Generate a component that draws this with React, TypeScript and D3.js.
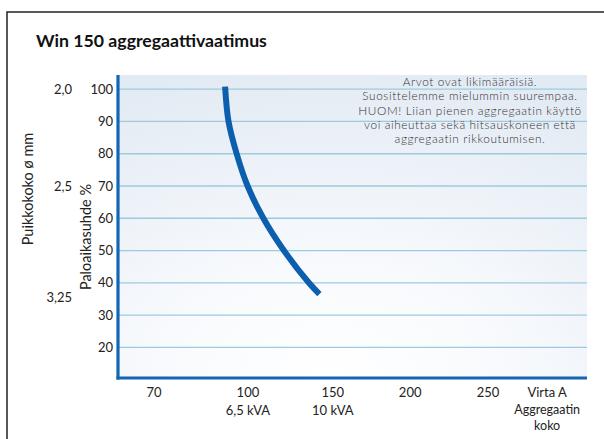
import React from "react";
import * as d3 from "d3";

// ---- data ----
const currentTicks = [70, 100, 150, 200, 250];
const currentTickLabels = ["70", "100", "150", "200", "250"];
const generatorLabels = ["", "6,5 kVA", "10 kVA", "", ""];
const dutyTicks = [20, 30, 40, 50, 60, 70, 80, 90, 100];
const electrodeLabels = ["2,0", "2,5", "3,25"];
const electrodeDuty = [100, 70, 35.5];
// curve: current (A) vs duty cycle (%)
const curveCurrent = [92.7, 93.8, 96.4, 99.9, 109.1, 121.2, 135.9, 142.1];
const curveDuty = [100.8, 90, 80, 70, 60, 50, 40, 36.5];
const noteLines = [
  "Arvot ovat likimääräisiä.",
  "Suosittelemme mielummin suurempaa.",
  "HUOM! Liian pienen aggregaatin käyttö",
  "voi aiheuttaa sekä hitsauskoneen että",
  "aggregaatin rikkoutumisen.",
];
const title = "Win 150 aggregaattivaatimus";

const W = 604;
const H = 439;
const L = 118, R = 587, T = 75, B = 378;
const FONT = "Lato, 'Open Sans', sans-serif";

export default function App() {
  const pw = R - L;
  const x = d3
    .scaleLinear()
    .domain(currentTicks)
    .range([0.077, 0.277, 0.458, 0.623, 0.789].map((f) => L + f * pw));
  const virtaX = L + 0.915 * pw;
  const y = d3.scaleLinear().domain([10.5, 104.4]).range([B, T]);

  const pts: [number, number][] = curveCurrent.map((c, i) => [c, curveDuty[i]]);
  const line = d3
    .line<[number, number]>()
    .x((d) => x(d[0]))
    .y((d) => y(d[1]))
    .curve(d3.curveCatmullRom.alpha(0.5));

  return (
    <svg width={W} height={H} style={{ position: "absolute", left: 0, top: 0 }}>
      <defs>
        <radialGradient id="bg" cx="0.45" cy="1" r="1.05" gradientUnits="objectBoundingBox">
          <stop offset="0" stopColor="#ffffff" />
          <stop offset="0.35" stopColor="#f8fafd" />
          <stop offset="1" stopColor="#e2eaf3" />
        </radialGradient>
      </defs>
      <rect x={0} y={0} width={W} height={H} fill="#fff" />
      <path d={`M7,${H} V12 H${W}`} fill="none" stroke="#222" strokeWidth={1.5} />
      <text x={36} y={47} fontFamily={FONT} fontWeight={700} fontSize={17.7} fill="#111">
        {title}
      </text>

      <rect x={L} y={T} width={R - L} height={B - T} fill="url(#bg)" />

      {dutyTicks.map((t) => (
        <line key={t} x1={L} x2={R} y1={y(t)} y2={y(t)} stroke="#9ccbdd" strokeWidth={1.3} />
      ))}

      {noteLines.map((s, i) => (
        <text
          key={i}
          x={470}
          y={86 + i * 14.3}
          textAnchor="middle"
          fontFamily={FONT}
          fontWeight={300}
          fontSize={11.8}
          letterSpacing={0.6}
          fill="#333"
        >
          {s}
        </text>
      ))}

      <path d={line(pts) || ""} fill="none" stroke="#0b5fae" strokeWidth={6} strokeLinecap="butt" />

      <line x1={L} x2={L} y1={T} y2={B + 1.5} stroke="#1465b4" strokeWidth={3.2} />
      <line x1={L - 1.6} x2={R} y1={B} y2={B} stroke="#1465b4" strokeWidth={3} />

      {dutyTicks.map((t) => (
        <text key={t} x={113} y={y(t)} dy="0.35em" textAnchor="end" fontFamily={FONT} fontSize={13} fill="#222">
          {t}
        </text>
      ))}
      {electrodeLabels.map((s, i) => (
        <text key={s} x={72} y={y(electrodeDuty[i])} dy="0.35em" textAnchor="end" fontFamily={FONT} fontSize={13} fill="#222">
          {s}
        </text>
      ))}

      <text transform={`translate(33,189) rotate(-90)`} textAnchor="middle" fontFamily={FONT} fontSize={14.5} fill="#222">
        Puikkokoko ø mm
      </text>
      <text transform={`translate(91,237) rotate(-90)`} textAnchor="middle" fontFamily={FONT} fontSize={14.5} fill="#222">
        Paloaikasuhde %
      </text>

      {currentTicks.map((t, i) => (
        <g key={t}>
          <text x={x(t)} y={397} textAnchor="middle" fontFamily={FONT} fontSize={13} fill="#222">
            {currentTickLabels[i]}
          </text>
          {generatorLabels[i] && (
            <text x={x(t)} y={415} textAnchor="middle" fontFamily={FONT} fontSize={13} fill="#222">
              {generatorLabels[i]}
            </text>
          )}
        </g>
      ))}
      <text x={virtaX} y={397} textAnchor="middle" fontFamily={FONT} fontSize={13} fill="#222">
        Virta A
      </text>
      <text x={virtaX} y={414} textAnchor="middle" fontFamily={FONT} fontSize={12.5} fill="#222">
        Aggregaatin
      </text>
      <text x={virtaX} y={430} textAnchor="middle" fontFamily={FONT} fontSize={12.5} fill="#222">
        koko
      </text>
    </svg>
  );
}
